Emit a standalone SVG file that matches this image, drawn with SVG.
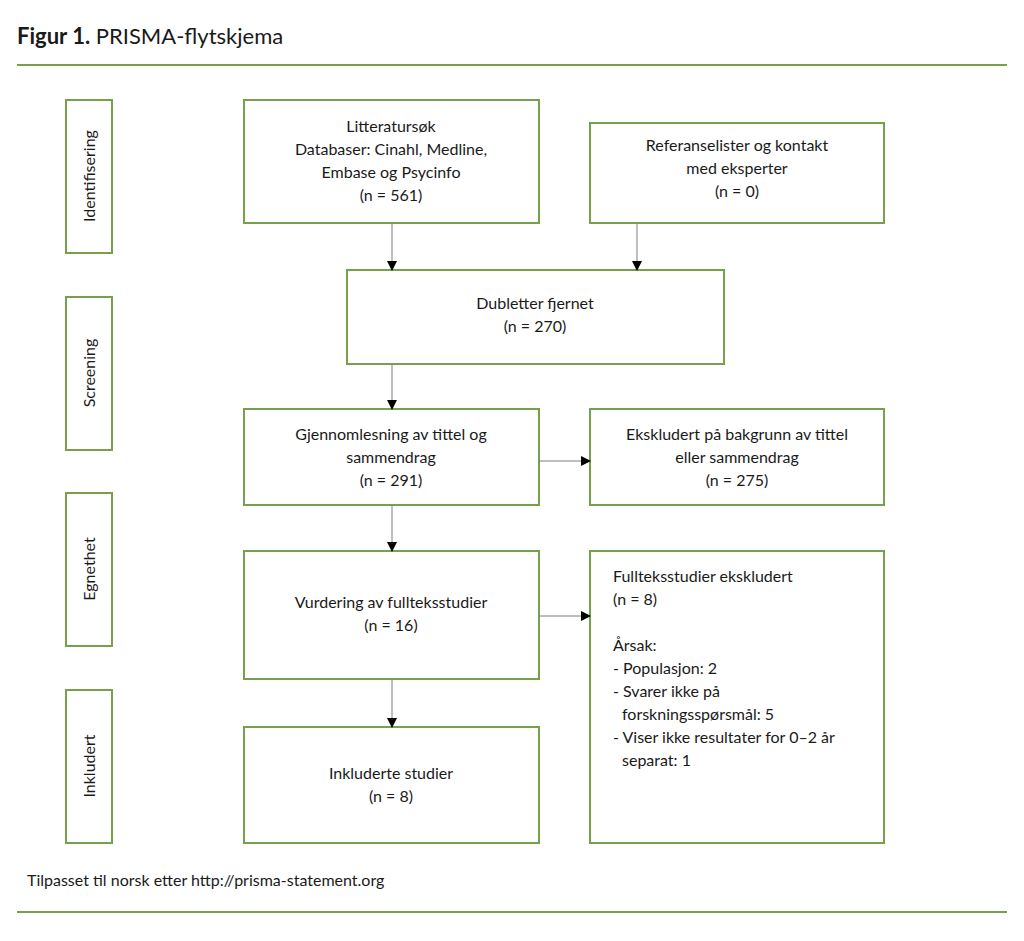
<svg xmlns="http://www.w3.org/2000/svg" width="1024" height="941" viewBox="0 0 1024 941">
<style>
text{font-family:Lato,"Open Sans","Liberation Sans",sans-serif;font-size:16px;fill:#1a1a1a}
.b{fill:#fff;stroke:#77a04a;stroke-width:2}
.c{stroke:#7f7f7f;stroke-width:1;fill:none;marker-end:url(#a)}
.m{text-anchor:middle}
</style>
<defs><marker id="a" markerWidth="10" markerHeight="10" refX="9" refY="5" orient="auto" markerUnits="userSpaceOnUse"><path d="M0,0 L10,5 L0,10 z" fill="#000"/></marker>
<marker id="v" markerWidth="18" markerHeight="12" refX="17" refY="6" orient="auto" markerUnits="userSpaceOnUse"><path d="M0,0 L17,6 L0,12 z" fill="#000"/></marker></defs>
<rect width="1024" height="941" fill="#fff"/>
<text x="17" y="44" style="font-size:22px"><tspan font-weight="bold">Figur 1.</tspan> PRISMA-flytskjema</text>
<line x1="17" y1="65" x2="1007" y2="65" stroke="#77a04a" stroke-width="2"/>
<line x1="17" y1="912" x2="1007" y2="912" stroke="#77a04a" stroke-width="2"/>
<g id="s1"><rect class="b" x="66" y="100" width="46" height="153"/><text class="m" transform="translate(95,176) rotate(-90)">Identifisering</text></g>
<g id="s2"><rect class="b" x="66" y="297" width="46" height="153"/><text class="m" transform="translate(95,373) rotate(-90)">Screening</text></g>
<g id="s3"><rect class="b" x="66" y="493" width="46" height="153"/><text class="m" transform="translate(95,569) rotate(-90)">Egnethet</text></g>
<g id="s4"><rect class="b" x="66" y="690" width="46" height="153"/><text class="m" transform="translate(95,766) rotate(-90)">Inkludert</text></g>
<g id="n1"><rect class="b" x="244" y="100" width="295" height="123"/><text class="m" x="391" y="132">Litteratursøk</text><text class="m" x="391" y="155">Databaser: Cinahl, Medline,</text><text class="m" x="391" y="178">Embase og Psycinfo</text><text class="m" x="391" y="201">(n = 561)</text></g>
<g id="n2"><rect class="b" x="590" y="123" width="294" height="100"/><text class="m" x="737" y="151">Referanselister og kontakt</text><text class="m" x="737" y="174">med eksperter</text><text class="m" x="737" y="197">(n = 0)</text></g>
<g id="n3"><rect class="b" x="347" y="270" width="377" height="94"/><text class="m" x="535" y="309">Dubletter fjernet</text><text class="m" x="535" y="332">(n = 270)</text></g>
<g id="n4"><rect class="b" x="244" y="409" width="295" height="96"/><text class="m" x="391" y="440">Gjennomlesning av tittel og</text><text class="m" x="391" y="463">sammendrag</text><text class="m" x="391" y="486">(n = 291)</text></g>
<g id="n5"><rect class="b" x="590" y="409" width="294" height="96"/><text class="m" x="737" y="440">Ekskludert på bakgrunn av tittel</text><text class="m" x="737" y="463">eller sammendrag</text><text class="m" x="737" y="486">(n = 275)</text></g>
<g id="n6"><rect class="b" x="244" y="551" width="295" height="128"/><text class="m" x="391" y="608">Vurdering av fullteksstudier</text><text class="m" x="391" y="631">(n = 16)</text></g>
<g id="n7"><rect class="b" x="590" y="551" width="294" height="292"/>
<text x="613" y="582">Fullteksstudier ekskludert</text><text x="613" y="605">(n = 8)</text><text x="613" y="651">Årsak:</text><text x="613" y="674">- Populasjon: 2</text><text x="613" y="697">- Svarer ikke på</text><text x="622" y="720">forskningsspørsmål: 5</text><text x="613" y="743">- Viser ikke resultater for 0–2 år</text><text x="622" y="766">separat: 1</text></g>
<g id="n8"><rect class="b" x="244" y="727" width="295" height="116"/><text class="m" x="391" y="779">Inkluderte studier</text><text class="m" x="391" y="802">(n = 8)</text></g>
<g id="edges">
<line class="c" x1="392" y1="223" x2="392" y2="270" marker-end="url(#v)"/>
<line class="c" x1="637" y1="223" x2="637" y2="270" marker-end="url(#v)"/>
<line class="c" x1="392" y1="364" x2="392" y2="409" marker-end="url(#v)"/>
<line class="c" x1="392" y1="505" x2="392" y2="551" marker-end="url(#v)"/>
<line class="c" x1="392" y1="679" x2="392" y2="727" marker-end="url(#v)"/>
<line class="c" x1="539" y1="461" x2="590" y2="461" marker-end="url(#v)"/>
<line class="c" x1="539" y1="616" x2="590" y2="616" marker-end="url(#v)"/>
</g>
<text x="27" y="886">Tilpasset til norsk etter http://prisma-statement.org</text>
</svg>
